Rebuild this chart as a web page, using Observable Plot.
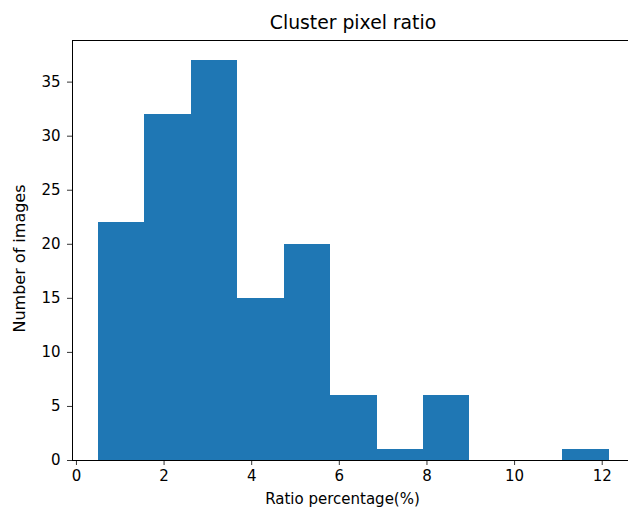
<!DOCTYPE html>
<html>
<head>
<meta charset="utf-8">
<script src="https://cdn.jsdelivr.net/npm/d3@7"></script>
<script src="https://cdn.jsdelivr.net/npm/@observablehq/plot@0.6"></script>
<style>
  body { margin: 0; background: #fff; font-family: "DejaVu Sans", sans-serif; }
  #wrap { width: 628px; height: 508px; overflow: hidden; position: relative; background: #fff; }
  #title { position: absolute; left: 353px; top: 14px; transform: translateX(-50%); font-size: 18.8px; line-height: 1; color: #000; white-space: nowrap; z-index: 2; }
  #chart { position: absolute; left: 0; top: 30px; z-index: 1; }
</style>
</head>
<body>
<div id="wrap">
  <div id="title"></div>
  <div id="chart"></div>
</div>
<script>
const titleText = "Cluster pixel ratio";
const xLabel = "Ratio percentage(%)";
const yLabel = "Number of images";
const binEdges = [0.50, 1.56, 2.62, 3.68, 4.74, 5.80, 6.86, 7.92, 8.98, 10.04, 11.10, 12.16];
const counts = [22, 32, 37, 15, 20, 6, 1, 6, 0, 0, 1];
const xTicks = [0, 2, 4, 6, 8, 10, 12];
const yTicks = [0, 5, 10, 15, 20, 25, 30, 35];

document.getElementById("title").textContent = titleText;

const bins = counts.map((c, i) => ({x1: binEdges[i], x2: binEdges[i + 1], count: c}));

const chart = Plot.plot({
  width: 628,
  height: 478,
  marginTop: 10,
  marginBottom: 48,
  marginLeft: 72,
  marginRight: 0,
  style: {fontFamily: "DejaVu Sans, sans-serif", fontSize: "15px", color: "#000", background: "transparent"},
  x: {domain: [-0.09, 12.6], ticks: xTicks, tickFormat: d => String(d), label: null},
  y: {domain: [0, 38.85], ticks: yTicks, tickFormat: d => String(d), label: null},
  marks: [
    Plot.rectY(bins, {x1: "x1", x2: "x2", y: "count", fill: "#1f77b4", inset: 0, shapeRendering: "crispEdges"}),
    Plot.axisX({ticks: xTicks, tickSize: 5, tickPadding: 5, tickFormat: d => String(d), stroke: "#000", strokeWidth: 0.8, fill: "#000", fontSize: 15, label: null}),
    Plot.axisY({ticks: yTicks, tickSize: 5, tickPadding: 7, tickFormat: d => String(d), stroke: "#000", strokeWidth: 0.8, fill: "#000", fontSize: 15, label: null}),
    Plot.ruleY([0], {stroke: "#000", strokeWidth: 1}),
    Plot.ruleY([38.85], {stroke: "#000", strokeWidth: 1}),
    Plot.ruleX([-0.09], {stroke: "#000", strokeWidth: 1}),
    Plot.text([yLabel], {frameAnchor: "left", textAnchor: "middle", rotate: -90, dx: -53, dy: 8, fontSize: 16, fill: "#000"}),
    Plot.text([xLabel], {frameAnchor: "bottom", dy: 43, dx: -8, fontSize: 15, fill: "#000"})
  ]
});
document.getElementById("chart").appendChild(chart);
</script>
</body>
</html>
